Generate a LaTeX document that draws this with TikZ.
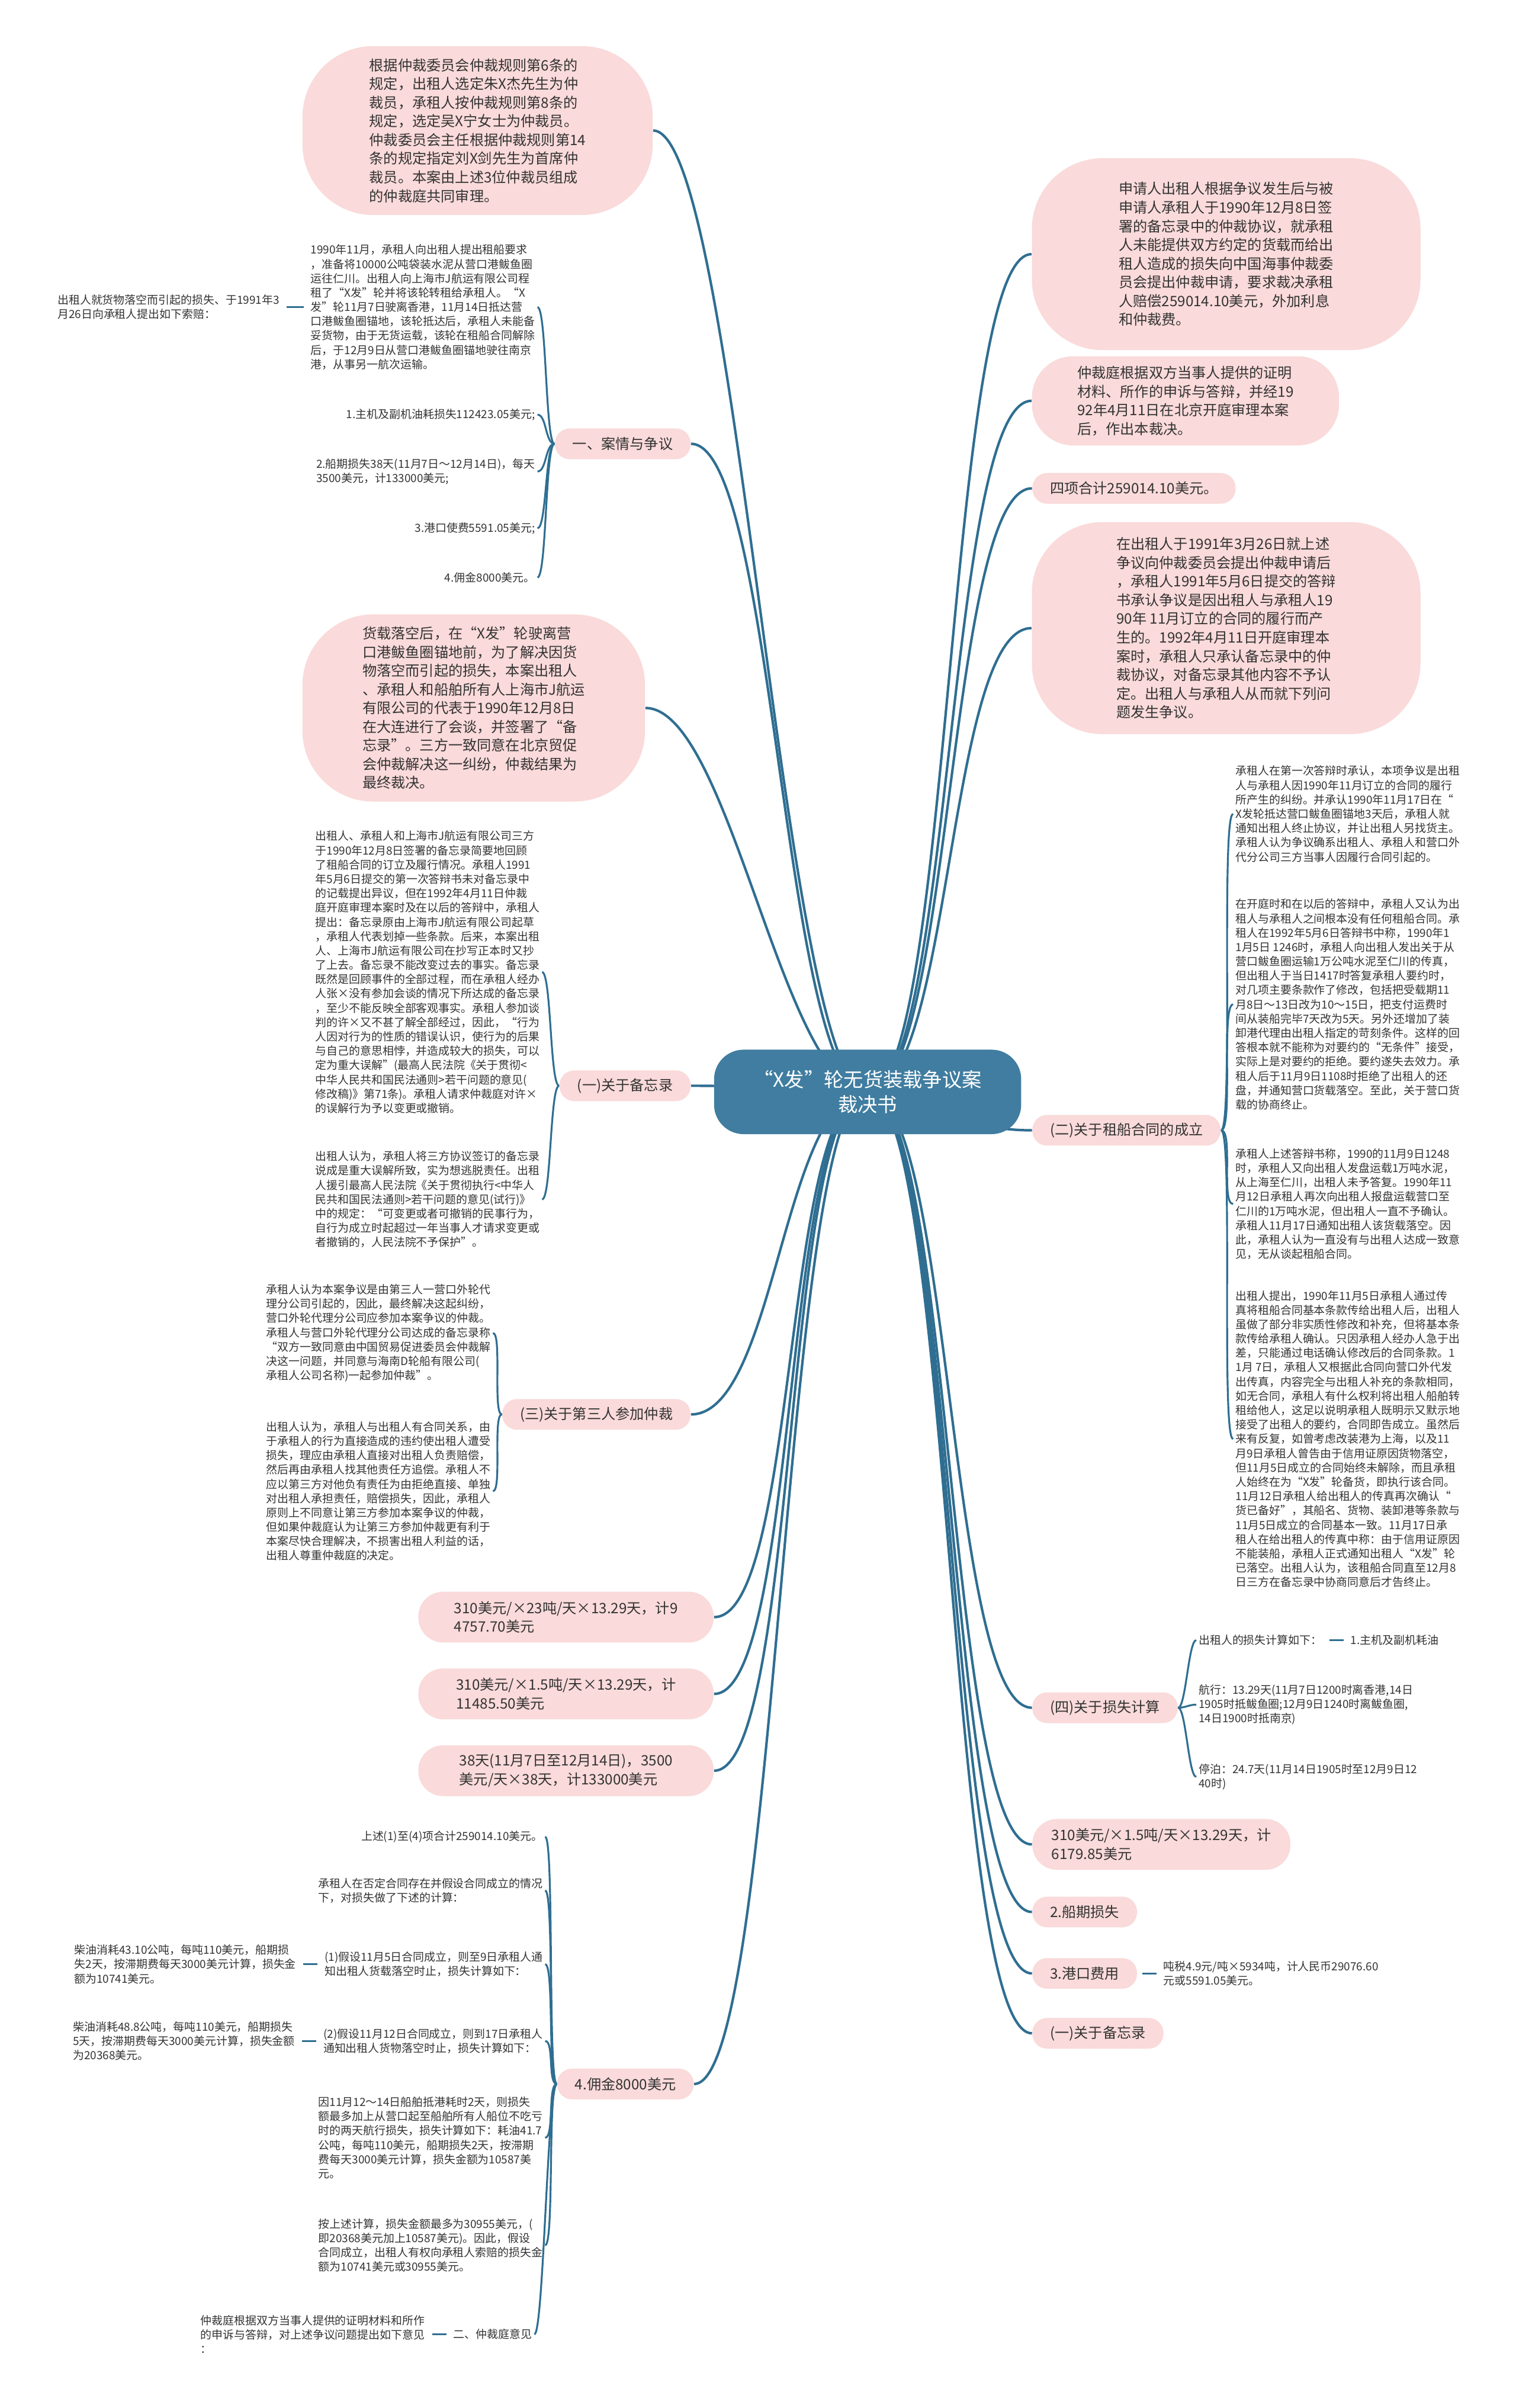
\documentclass[tikz,border=0pt]{standalone}
\usepackage{fontspec}
\setmainfont{Noto Sans CJK SC}
\usepackage{xcolor}
\usetikzlibrary{positioning,backgrounds}
\definecolor{linkblue}{RGB}{47,110,145}
\definecolor{rootblue}{RGB}{64,125,160}
\definecolor{pinkfill}{RGB}{250,218,218}
\definecolor{inkgray}{RGB}{51,51,51}
\newcommand{\bigtext}{\fontsize{6.9pt}{9pt}\selectfont}
\newcommand{\smalltext}{\fontsize{5.4pt}{6.9pt}\selectfont}
\tikzset{
  rootbox/.style={
    shape = rectangle,
    fill = rootblue,
    rounded corners = 0.5cm,
    text = white,
    align = center,
    minimum width = 5.2cm,
    minimum height = 1.43cm,
    font = \fontsize{9.5pt}{12pt}\selectfont
  },
}
\tikzset{
  pill/.style={
    shape = rectangle,
    fill = pinkfill,
    rounded corners = 0.25cm,
    inner xsep = 0.3cm,
    inner ysep = 0pt,
    minimum height = 0.52cm,
    text = inkgray,
    align = left,
    font = \bigtext
  },
  pilltwo/.style={
    pill,
    rounded corners = 0.42cm,
    minimum height = 0.86cm,
    minimum width = 5cm
  },
  bubble/.style={
    shape = rectangle,
    fill = pinkfill,
    rounded corners = 1.2cm,
    text = inkgray,
    align = left,
    font = \bigtext
  },
  note/.style={
    inner sep = 1pt,
    text = inkgray,
    align = left,
    font = \smalltext
  },
  link/.style={
    draw = linkblue,
    line width = 1.2pt
  },
  twig/.style={
    draw = linkblue,
    line width = 0.9pt
  },
  stub/.style={
    twig,
    shorten <= 0.08cm,
    shorten >= 0.08cm
  }
}

\begin{document}
\begin{tikzpicture}[x=0.026cm, y=-0.026cm]
    \useasboundingbox (0,0) rectangle (987,1568);
    \node[rootbox] (root) at (565,711) {“X发”轮无货装载争议案\\裁决书};
    % left side
    \node[bubble, minimum width=5.93cm, minimum height=2.86cm] (panel) at (311,85) {根据仲裁委员会仲裁规则第6条的\\规定，出租人选定朱X杰先生为仲\\裁员，承租人按仲裁规则第8条的\\规定，选定吴X宁女士为仲裁员。\\仲裁委员会主任根据仲裁规则第14\\条的规定指定刘X剑先生为首席仲\\裁员。本案由上述3位仲裁员组成\\的仲裁庭共同审理。};
    \node[pill, anchor=east] (facts) at (450,289) {一、案情与争议};
    \node[note, anchor=east] (voyage) at (350,200) {1990年11月，承租人向出租人提出租船要求\\，准备将10000公吨袋装水泥从营口港鲅鱼圈\\运往仁川。出租人向上海市J航运有限公司程\\租了“X发”轮并将该轮转租给承租人。“X\\发”轮11月7日驶离香港，11月14日抵达营\\口港鲅鱼圈锚地，该轮抵达后，承租人未能备\\妥货物，由于无货运载，该轮在租船合同解除\\后，于12月9日从营口港鲅鱼圈锚地驶往南京\\港，从事另一航次运输。};
    \node[note, left=0.45cm of voyage] (claim) {出租人就货物落空而引起的损失、于1991年3\\月26日向承租人提出如下索赔：};
    \node[note, anchor=east] (oil) at (350,270) {1.主机及副机油耗损失112423.05美元;};
    \node[note, anchor=east] (delay) at (350,307) {2.船期损失38天(11月7日～12月14日)，每天\\3500美元，计133000美元;};
    \node[note, anchor=east] (dues) at (350,344) {3.港口使费5591.05美元;};
    \node[note, anchor=east] (fee) at (350,376) {4.佣金8000美元。};
    \node[bubble, minimum width=5.8cm, minimum height=3.17cm] (meeting) at (308.5,461) {货载落空后，在“X发”轮驶离营\\口港鲅鱼圈锚地前，为了解决因货\\物落空而引起的损失，本案出租人\\、承租人和船舶所有人上海市J航运\\有限公司的代表于1990年12月8日\\在大连进行了会谈，并签署了“备\\忘录”。三方一致同意在北京贸促\\会仲裁解决这一纠纷，仲裁结果为\\最终裁决。};
    \node[pill, anchor=east] (memo) at (450,707) {(一)关于备忘录};
    \node[note, anchor=east] (memoA) at (353,633) {出租人、承租人和上海市J航运有限公司三方\\于1990年12月8日签署的备忘录简要地回顾\\了租船合同的订立及履行情况。承租人1991\\年5月6日提交的第一次答辩书未对备忘录中\\的记载提出异议，但在1992年4月11日仲裁\\庭开庭审理本案时及在以后的答辩中，承租人\\提出：备忘录原由上海市J航运有限公司起草\\，承租人代表划掉一些条款。后来，本案出租\\人、上海市J航运有限公司在抄写正本时又抄\\了上去。备忘录不能改变过去的事实。备忘录\\既然是回顾事件的全部过程，而在承租人经办\\人张×没有参加会谈的情况下所达成的备忘录\\，至少不能反映全部客观事实。承租人参加谈\\判的许×又不甚了解全部经过，因此，“行为\\人因对行为的性质的错误认识，使行为的后果\\与自己的意思相悖，并造成较大的损失，可以\\定为重大误解”(最高人民法院《关于贯彻<\\中华人民共和国民法通则>若干问题的意见(\\修改稿)》第71条)。承租人请求仲裁庭对许×\\的误解行为予以变更或撤销。};
    \node[note, anchor=east] (memoB) at (353,781) {出租人认为，承租人将三方协议签订的备忘录\\说成是重大误解所致，实为想逃脱责任。出租\\人援引最高人民法院《关于贯彻执行<中华人\\民共和国民法通则>若干问题的意见(试行)》\\中的规定：“可变更或者可撤销的民事行为，\\自行为成立时起超过一年当事人才请求变更或\\者撤销的，人民法院不予保护”。};
    \node[pill, anchor=east] (third) at (450,921) {(三)关于第三人参加仲裁};
    \node[note, anchor=east] (thirdA) at (321,868) {承租人认为本案争议是由第三人一营口外轮代\\理分公司引起的，因此，最终解决这起纠纷，\\营口外轮代理分公司应参加本案争议的仲裁。\\承租人与营口外轮代理分公司达成的备忘录称\\“双方一致同意由中国贸易促进委员会仲裁解\\决这一问题，并同意与海南D轮船有限公司(\\承租人公司名称)一起参加仲裁”。};
    \node[note, anchor=east] (thirdB) at (321,971) {出租人认为，承租人与出租人有合同关系，由\\于承租人的行为直接造成的违约使出租人遭受\\损失，理应由承租人直接对出租人负责赔偿，\\然后再由承租人找其他责任方追偿。承租人不\\应以第三方对他负有责任为由拒绝直接、单独\\对出租人承担责任，赔偿损失，因此，承租人\\原则上不同意让第三方参加本案争议的仲裁，\\但如果仲裁庭认为让第三方参加仲裁更有利于\\本案尽快合理解决，不损害出租人利益的话，\\出租人尊重仲裁庭的决定。};
    \node[pilltwo, anchor=east] (calcA) at (465,1053) {310美元/×23吨/天×13.29天，计9\\4757.70美元};
    \node[pilltwo, anchor=east] (calcB) at (465,1103) {310美元/×1.5吨/天×13.29天，计\\11485.50美元};
    \node[pilltwo, anchor=east] (calcC) at (465,1153) {38天(11月7日至12月14日)，3500\\美元/天×38天，计133000美元};
    \node[pill, anchor=east] (commission) at (452,1357) {4.佣金8000美元};
    \node[note, anchor=east] (sumup) at (355,1196) {上述(1)至(4)项合计259014.10美元。};
    \node[note, anchor=east] (hypo) at (355,1231) {承租人在否定合同存在并假设合同成立的情况\\下，对损失做了下述的计算：};
    \node[note, anchor=east] (caseA) at (355,1279) {(1)假设11月5日合同成立，则至9日承租人通\\知出租人货载落空时止，损失计算如下：};
    \node[note, left=0.4cm of caseA] (dieselA) {柴油消耗43.10公吨，每吨110美元，船期损\\失2天，按滞期费每天3000美元计算，损失金\\额为10741美元。};
    \node[note, anchor=east] (caseB) at (355,1329) {(2)假设11月12日合同成立，则到17日承租人\\通知出租人货物落空时止，损失计算如下：};
    \node[note, left=0.4cm of caseB] (dieselB) {柴油消耗48.8公吨，每吨110美元，船期损失\\5天，按滞期费每天3000美元计算，损失金额\\为20368美元。};
    \node[note, anchor=east] (extra) at (355,1392) {因11月12～14日船舶抵港耗时2天，则损失\\额最多加上从营口起至船舶所有人船位不吃亏\\时的两天航行损失，损失计算如下：耗油41.7\\公吨，每吨110美元，船期损失2天，按滞期\\费每天3000美元计算，损失金额为10587美\\元。};
    \node[note, anchor=east] (total) at (355,1462) {按上述计算，损失金额最多为30955美元，(\\即20368美元加上10587美元)。因此，假设\\合同成立，出租人有权向承租人索赔的损失金\\额为10741美元或30955美元。};
    \node[note, anchor=east] (opinion) at (348,1520) {二、仲裁庭意见};
    \node[note, left=0.4cm of opinion] (basis) {仲裁庭根据双方当事人提供的证明材料和所作\\的申诉与答辩，对上述争议问题提出如下意见\\：};
    % right side
    \node[bubble, minimum width=6.58cm, minimum height=3.25cm] (request) at (798.5,165.5) {申请人出租人根据争议发生后与被\\申请人承租人于1990年12月8日签\\署的备忘录中的仲裁协议，就承租\\人未能提供双方约定的货载而给出\\租人造成的损失向中国海事仲裁委\\员会提出仲裁申请，要求裁决承租\\人赔偿259014.10美元，外加利息\\和仲裁费。};
    \node[bubble, rounded corners=0.7cm, minimum width=5.2cm, minimum height=1.51cm] (hearing) at (772,261) {仲裁庭根据双方当事人提供的证明\\材料、所作的申诉与答辩，并经19\\92年4月11日在北京开庭审理本案\\后，作出本裁决。};
    \node[pill, anchor=west] (fourSum) at (672,318) {四项合计259014.10美元。};
    \node[bubble, minimum width=6.58cm, minimum height=3.59cm] (dispute) at (798.5,409) {在出租人于1991年3月26日就上述\\争议向仲裁委员会提出仲裁申请后\\，承租人1991年5月6日提交的答辩\\书承认争议是因出租人与承租人19\\90年 11月订立的合同的履行而产\\生的。1992年4月11日开庭审理本\\案时，承租人只承认备忘录中的仲\\裁协议，对备忘录其他内容不予认\\定。出租人与承租人从而就下列问\\题发生争议。};
    \node[pill, anchor=west] (charter) at (672,736) {(二)关于租船合同的成立};
    \node[note, anchor=west] (charterA) at (803,530) {承租人在第一次答辩时承认，本项争议是出租\\人与承租人因1990年11月订立的合同的履行\\所产生的纠纷。并承认1990年11月17日在“\\X发轮抵达营口鲅鱼圈锚地3天后，承租人就\\通知出租人终止协议，并让出租人另找货主。\\承租人认为争议确系出租人、承租人和营口外\\代分公司三方当事人因履行合同引起的。};
    \node[note, anchor=west] (charterB) at (803,654) {在开庭时和在以后的答辩中，承租人又认为出\\租人与承租人之间根本没有任何租船合同。承\\租人在1992年5月6日答辩书中称，1990年1\\1月5日 1246时，承租人向出租人发出关于从\\营口鲅鱼圈运输1万公吨水泥至仁川的传真，\\但出租人于当日1417时答复承租人要约时，\\对几项主要条款作了修改，包括把受载期11\\月8日～13日改为10～15日，把支付运费时\\间从装船完毕7天改为5天。另外还增加了装\\卸港代理由出租人指定的苛刻条件。这样的回\\答根本就不能称为对要约的“无条件”接受，\\实际上是对要约的拒绝。要约遂失去效力。承\\租人后于11月9日1108时拒绝了出租人的还\\盘，并通知营口货载落空。至此，关于营口货\\载的协商终止。};
    \node[note, anchor=west] (charterC) at (803,784) {承租人上述答辩书称，1990的11月9日1248\\时，承租人又向出租人发盘运载1万吨水泥，\\从上海至仁川，出租人未予答复。1990年11\\月12日承租人再次向出租人报盘运载营口至\\仁川的1万吨水泥，但出租人一直不予确认。\\承租人11月17日通知出租人该货载落空。因\\此，承租人认为一直没有与出租人达成一致意\\见，无从谈起租船合同。};
    \node[note, anchor=west] (charterD) at (803,937) {出租人提出，1990年11月5日承租人通过传\\真将租船合同基本条款传给出租人后，出租人\\虽做了部分非实质性修改和补充，但将基本条\\款传给承租人确认。只因承租人经办人急于出\\差，只能通过电话确认修改后的合同条款。1\\1月 7日，承租人又根据此合同向营口外代发\\出传真，内容完全与出租人补充的条款相同，\\如无合同，承租人有什么权利将出租人船舶转\\租给他人，这足以说明承租人既明示又默示地\\接受了出租人的要约，合同即告成立。虽然后\\来有反复，如曾考虑改装港为上海，以及11\\月9日承租人曾告由于信用证原因货物落空，\\但11月5日成立的合同始终未解除，而且承租\\人始终在为“X发”轮备货，即执行该合同。\\11月12日承租人给出租人的传真再次确认“\\货已备好”，其船名、货物、装卸港等条款与\\11月5日成立的合同基本一致。11月17日承\\租人在给出租人的传真中称：由于信用证原因\\不能装船，承租人正式通知出租人“X发”轮\\已落空。出租人认为，该租船合同直至12月8\\日三方在备忘录中协商同意后才告终止。};
    \node[pill, anchor=west] (losses) at (672,1112) {(四)关于损失计算};
    \node[note, anchor=west] (lossList) at (779,1068) {出租人的损失计算如下：};
    \node[note, right=0.4cm of lossList] (mainOil) {1.主机及副机耗油};
    \node[note, anchor=west] (sailing) at (779,1110) {航行：13.29天(11月7日1200时离香港,14日\\1905时抵鲅鱼圈;12月9日1240时离鲅鱼圈,\\14日1900时抵南京)};
    \node[note, anchor=west] (berth) at (779,1157) {停泊：24.7天(11月14日1905时至12月9日12\\40时)};
    \node[pilltwo, anchor=west, minimum width=4.37cm] (calcD) at (672,1201) {310美元/×1.5吨/天×13.29天，计\\6179.85美元};
    \node[pill, anchor=west] (delayR) at (672,1245) {2.船期损失};
    \node[pill, anchor=west] (portR) at (672,1285) {3.港口费用};
    \node[note, right=0.4cm of portR] (tonnage) {吨税4.9元/吨×5934吨，计人民币29076.60\\元或5591.05美元。};
    \node[pill, anchor=west] (memoR) at (672,1324) {(一)关于备忘录};
    \begin{scope}[on background layer]
    \fill[white] (0,0) rectangle (987,1568);
    \foreach \n in {request,hearing,fourSum,dispute,charter,losses,calcD,delayR,portR,memoR}
      \draw[link] (root.center) .. controls +(55,0) and +(-55,0) .. (\n.west);
    \foreach \n in {panel,facts,meeting,memo,third,calcA,calcB,calcC,commission}
      \draw[link] (root.center) .. controls +(-55,0) and +(55,0) .. (\n.east);
    \foreach \n in {voyage,oil,delay,dues,fee}
      \draw[twig] (facts.west) .. controls +(-6,0) and +(6,0) .. (\n.east);
    \foreach \n in {memoA,memoB}
      \draw[twig] (memo.west) .. controls +(-6,0) and +(6,0) .. (\n.east);
    \foreach \n in {thirdA,thirdB}
      \draw[twig] (third.west) .. controls +(-6,0) and +(6,0) .. (\n.east);
    \foreach \n in {sumup,hypo,caseA,caseB,extra,total,opinion}
      \draw[twig] (commission.west) .. controls +(-6,0) and +(6,0) .. (\n.east);
    \foreach \n in {charterA,charterB,charterC,charterD}
      \draw[twig] (charter.east) .. controls +(8,0) and +(-8,0) .. (\n.west);
    \foreach \n in {lossList,sailing,berth}
      \draw[twig] (losses.east) .. controls +(5,0) and +(-5,0) .. (\n.west);
    \draw[stub] (voyage.west) -- (claim.east);
    \draw[stub] (caseA.west) -- (dieselA.east);
    \draw[stub] (caseB.west) -- (dieselB.east);
    \draw[stub] (opinion.west) -- (basis.east);
    \draw[stub] (lossList.east) -- (mainOil.west);
    \draw[stub] (portR.east) -- (tonnage.west);
    \end{scope}
\end{tikzpicture}
\end{document}
